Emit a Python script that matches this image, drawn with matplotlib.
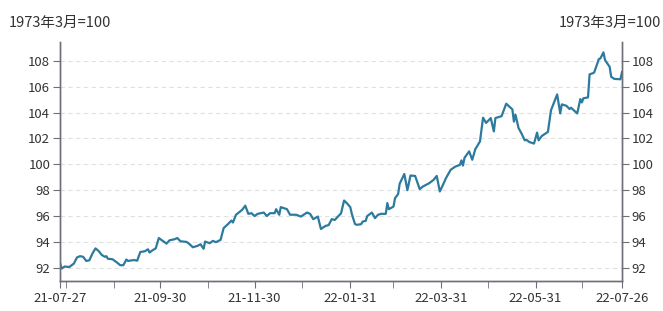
import matplotlib
matplotlib.use("Agg")
import matplotlib.pyplot as plt
import matplotlib.dates as mdates
import pandas as pd

plt.rcParams['font.family'] = ['Noto Sans CJK SC', 'DejaVu Sans']

# 美元指数 (1973年3月=100), 近似值
dates = [
    "2021-07-27", "2021-07-28", "2021-07-30", "2021-08-02", "2021-08-05", "2021-08-07",
    "2021-08-09", "2021-08-11", "2021-08-13", "2021-08-15", "2021-08-17", "2021-08-19",
    "2021-08-21", "2021-08-23", "2021-08-25", "2021-08-26", "2021-08-27", "2021-08-30",
    "2021-09-02", "2021-09-04", "2021-09-06", "2021-09-08", "2021-09-09", "2021-09-13",
    "2021-09-15", "2021-09-17", "2021-09-20", "2021-09-22", "2021-09-23", "2021-09-25",
    "2021-09-27", "2021-09-29",
    "2021-10-01", "2021-10-04", "2021-10-06", "2021-10-08", "2021-10-09", "2021-10-11",
    "2021-10-13", "2021-10-17", "2021-10-19", "2021-10-21", "2021-10-24", "2021-10-26",
    "2021-10-28", "2021-10-29",
    "2021-11-01", "2021-11-03", "2021-11-05", "2021-11-08", "2021-11-10", "2021-11-13",
    "2021-11-15", "2021-11-16", "2021-11-18", "2021-11-22", "2021-11-24", "2021-11-26",
    "2021-11-28", "2021-11-30",
    "2021-12-02", "2021-12-06", "2021-12-08", "2021-12-10", "2021-12-13", "2021-12-14",
    "2021-12-16", "2021-12-17", "2021-12-21", "2021-12-23", "2021-12-27", "2021-12-30",
    "2022-01-03", "2022-01-05", "2022-01-07", "2022-01-10", "2022-01-12", "2022-01-15",
    "2022-01-17", "2022-01-19", "2022-01-21", "2022-01-23", "2022-01-25", "2022-01-27",
    "2022-01-29", "2022-01-31",
    "2022-02-01", "2022-02-03", "2022-02-04", "2022-02-07", "2022-02-08", "2022-02-10",
    "2022-02-11", "2022-02-14", "2022-02-16", "2022-02-18", "2022-02-20", "2022-02-23",
    "2022-02-24", "2022-02-25", "2022-02-28",
    "2022-03-01", "2022-03-03", "2022-03-04", "2022-03-07", "2022-03-09", "2022-03-11",
    "2022-03-14", "2022-03-17", "2022-03-19", "2022-03-23", "2022-03-26", "2022-03-28",
    "2022-03-30",
    "2022-04-01", "2022-04-03", "2022-04-06", "2022-04-09", "2022-04-12", "2022-04-13",
    "2022-04-14", "2022-04-15", "2022-04-18", "2022-04-20", "2022-04-22", "2022-04-25",
    "2022-04-27", "2022-04-29",
    "2022-05-02", "2022-05-04", "2022-05-05", "2022-05-09", "2022-05-12", "2022-05-16",
    "2022-05-17", "2022-05-18", "2022-05-20", "2022-05-22", "2022-05-24", "2022-05-25",
    "2022-05-27", "2022-05-30",
    "2022-06-01", "2022-06-02", "2022-06-04", "2022-06-08", "2022-06-10", "2022-06-14",
    "2022-06-16", "2022-06-17", "2022-06-20", "2022-06-22", "2022-06-23", "2022-06-27",
    "2022-06-29", "2022-06-30",
    "2022-07-01", "2022-07-04", "2022-07-05", "2022-07-07", "2022-07-08", "2022-07-11",
    "2022-07-12", "2022-07-14", "2022-07-15", "2022-07-18", "2022-07-19", "2022-07-21",
    "2022-07-25", "2022-07-26",
]
values = [
    92.40, 91.94, 92.10, 92.06, 92.33, 92.80, 92.90, 92.85, 92.53, 92.58, 93.10, 93.50,
    93.30, 93.00, 92.85, 92.90, 92.70, 92.66,
    92.40, 92.20, 92.20, 92.64, 92.53, 92.60, 92.55, 93.22, 93.28, 93.43, 93.18, 93.36,
    93.50, 94.30,
    94.13, 93.87, 94.13, 94.18, 94.20, 94.30, 94.05, 94.00, 93.82, 93.59, 93.69, 93.82,
    93.47, 94.03,
    93.90, 94.08, 93.98, 94.16, 95.07, 95.40, 95.65, 95.50, 96.10, 96.48, 96.80, 96.17,
    96.22, 96.00,
    96.17, 96.27, 96.00, 96.22, 96.22, 96.53, 96.10, 96.69, 96.53, 96.10, 96.10, 95.96,
    96.27, 96.17, 95.76, 95.96, 95.00, 95.24, 95.30, 95.76, 95.70, 95.96, 96.20, 97.20,
    96.97, 96.69,
    96.17, 95.40, 95.32, 95.37, 95.57, 95.63, 96.00, 96.27, 95.84, 96.10, 96.17, 96.17,
    97.00, 96.53, 96.73,
    97.38, 97.70, 98.50, 99.25, 98.00, 99.13, 99.10, 98.08, 98.28, 98.53, 98.80, 99.10,
    97.90,
    98.40, 98.93, 99.57, 99.82, 99.95, 100.30, 99.90, 100.50, 101.00, 100.35, 101.17, 101.76,
    103.60, 103.20,
    103.57, 102.54, 103.57, 103.72, 104.68, 104.24, 103.30, 103.83, 102.80, 102.36, 101.85, 101.90,
    101.72, 101.60,
    102.45, 101.85, 102.18, 102.50, 104.17, 105.40, 103.93, 104.63, 104.52, 104.27, 104.37, 103.93,
    105.04, 104.78,
    105.10, 105.17, 106.95, 107.03, 107.10, 108.13, 108.18, 108.65, 108.05, 107.53, 106.76, 106.60,
    106.57, 107.13,
]
label_dates = ["2021-07-27", "2021-09-30", "2021-11-30", "2022-01-31",
               "2022-03-31", "2022-05-31", "2022-07-26"]
y_ticks = [92, 94, 96, 98, 100, 102, 104, 106, 108]
unit = "1973年3月=100"

x = pd.to_datetime(dates)
lab = pd.to_datetime(label_dates)
month_ends = pd.date_range("2021-07-31", "2022-06-30", freq=pd.offsets.MonthEnd())

W, H = 663, 311
fig = plt.figure(figsize=(W / 100, H / 100), dpi=100)
ax = fig.add_axes([60 / W, 30 / H, 562 / W, 239 / H])

ax.plot(x, values, color="#2c7a9e", lw=1.6, zorder=3)
ax.set_xlim(x[0], x[-1])
ax.set_ylim(90.98, 109.45)

axis_c = "#6e7079"
txt_c = "#333333"

ax.set_yticks(y_ticks)
ax.yaxis.grid(True, ls=(0, (4, 3)), color="#e0e0e0", lw=0.8)
ax.set_axisbelow(True)

ax.set_xticks(lab)
ax.xaxis.set_major_formatter(mdates.DateFormatter("%y-%m-%d"))
ax.set_xticks(month_ends, minor=True)

ax.tick_params(axis="x", which="both", length=5, color=axis_c, labelsize=9.5,
               labelcolor=txt_c, pad=3)
ax.tick_params(axis="y", length=5, color=axis_c, labelsize=9.5, labelcolor=txt_c, pad=2)

ax2 = ax.twinx()
ax2.set_ylim(ax.get_ylim())
ax2.set_yticks(y_ticks)
ax2.tick_params(axis="y", length=5, color=axis_c, labelsize=9.5, labelcolor=txt_c, pad=2)

for a in (ax, ax2):
    a.spines["top"].set_visible(False)
    for s in ("left", "right", "bottom"):
        a.spines[s].set_color(axis_c)
        a.spines[s].set_linewidth(1)

fig.text(60 / W, 1 - 23 / H, unit, ha="center", va="center", fontsize=10.5, color=txt_c)
# 右侧单位在参考图中被边缘截断，这里右对齐放在画布内
fig.text(661 / W, 1 - 23 / H, unit, ha="right", va="center", fontsize=10.5, color=txt_c)

fig.savefig("out.png", dpi=100)
